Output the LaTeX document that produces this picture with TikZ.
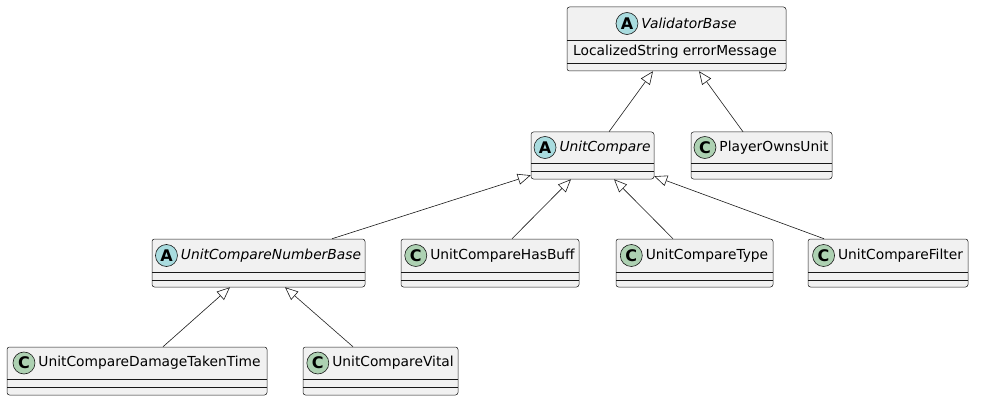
\documentclass[tikz,border=0pt]{standalone}
\usepackage{fontspec}
\setmainfont{DejaVu Sans}
\usetikzlibrary{fit,arrows.meta}
\definecolor{boxfill}{HTML}{F1F1F1}
\definecolor{boxline}{HTML}{181818}
\definecolor{absfill}{HTML}{A9DCDF}
\definecolor{clsfill}{HTML}{ADD1B2}
\tikzset{
  cbox/.style={draw=boxline, fill=boxfill, line width=0.5pt, rounded corners=2.5pt, inner sep=0pt},
  sepline/.style={draw=boxline, line width=0.5pt},
  ctext/.style={inner sep=0pt, font=\fontsize{13.8}{16}\selectfont},
  icon/.style={circle, draw=boxline, line width=0.6pt, minimum size=22pt, inner sep=0pt, font=\fontsize{16}{18}\selectfont\bfseries},
  inh/.style={draw=boxline, line width=0.6pt, -{Triangle[open, fill=white, length=13pt, width=11pt]}},
}
% #1 name, #2 x1, #3 y1, #4 x2, #5 y2, #6 sep1, #7 sep2, #8 letter, #9 label
\newcommand{\umlbox}[9]{%
  \node[cbox, fit={(#2,#3) (#4,#5)}] (#1) {};
  \draw[sepline] (#2,#6) -- (#4,#6);
  \draw[sepline] (#2,#7) -- (#4,#7);
  \node[ctext] (#1-t) at ({(#2+#4)/2+12.5},{(#3+#6)/2}) {#9};
  \ifx A#8
    \node[icon, fill=absfill, anchor=east] (#1-i) at ([xshift=-3pt]#1-t.west) {A};
  \else
    \node[icon, fill=clsfill, anchor=east] (#1-i) at ([xshift=-3pt]#1-t.west) {C};
  \fi
}
\begin{document}
\begin{tikzpicture}[x=1pt, y=-1pt]
\useasboundingbox (0,0) rectangle (982,409);
\umlbox{vb}{567}{7}{786}{71}{40}{63}{A}{\itshape ValidatorBase}
\node[ctext, anchor=west] (vb-a) at (573,52) {LocalizedString errorMessage};
\umlbox{uc}{531}{132}{654}{179}{163}{171}{A}{\itshape UnitCompare}
\umlbox{po}{691}{132}{832}{179}{163}{171}{C}{PlayerOwnsUnit}
\umlbox{nb}{152}{239}{365}{287}{272}{280}{A}{\itshape UnitCompareNumberBase}
\umlbox{hb}{401}{239}{579}{287}{272}{280}{C}{UnitCompareHasBuff}
\umlbox{ty}{616}{239}{773}{287}{272}{280}{C}{UnitCompareType}
\umlbox{fi}{808}{239}{968}{287}{272}{280}{C}{UnitCompareFilter}
\umlbox{dt}{7}{347}{267}{395}{379}{387}{C}{UnitCompareDamageTakenTime}
\umlbox{vi}{303}{347}{458}{395}{379}{387}{C}{UnitCompareVital}
\draw[inh] ([xshift=16.5pt]uc.north) -- ([xshift=-23.5pt]vb.south);
\draw[inh] ([xshift=-18.5pt]po.north) -- ([xshift=22.5pt]vb.south);
\draw[inh] ([xshift=73.5pt]nb.north) -- ([yshift=4pt]uc.south west);
\draw[inh] ([xshift=22pt]hb.north) -- ([xshift=-21.5pt]uc.south);
\draw[inh] ([xshift=-21.5pt]ty.north) -- ([xshift=21.5pt]uc.south);
\draw[inh] ([xshift=-64pt]fi.north) -- ([yshift=3pt]uc.south east);
\draw[inh] ([xshift=26pt]dt.north) -- ([xshift=-28.5pt]nb.south);
\draw[inh] ([xshift=-27.5pt]vi.north) -- ([xshift=26.5pt]nb.south);
\end{tikzpicture}
\end{document}
